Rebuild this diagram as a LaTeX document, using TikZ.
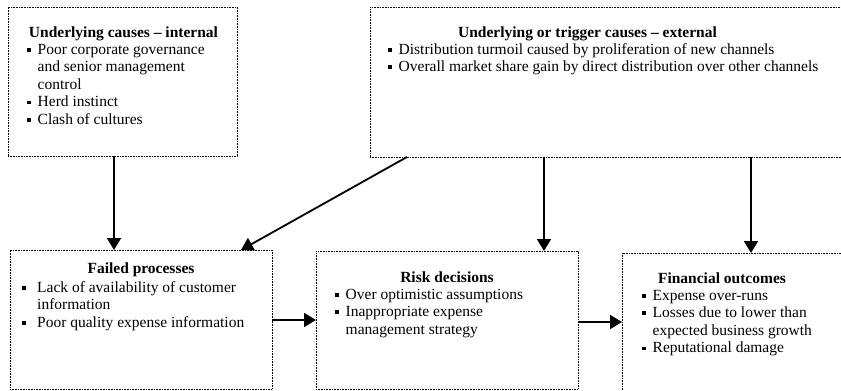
\documentclass[tikz,border=0pt]{standalone}
\usepackage{fontspec}
\setmainfont{Liberation Serif}
\usetikzlibrary{arrows.meta}

% square bullet, set in a column of its own
\newlength\bulind
\setlength\bulind{10pt}
\newcommand\bul{\makebox[\bulind][l]{\rule[2.5pt]{3.8pt}{3.8pt}}}
\newenvironment{blist}[1]
  {\setlength\bulind{#1}\begin{tabular}[t]{@{}l@{}l@{}}}
  {\end{tabular}}

\tikzset{
  box/.style={draw=black, line width=0.9pt, dash pattern=on 0.9pt off 0.7pt,
    rectangle, inner sep=0pt, outer sep=0pt},
  title/.style={font=\fontsize{15.5}{17.6}\selectfont\bfseries, inner sep=0pt, anchor=base},
  body/.style={font=\fontsize{15.5}{17.6}\selectfont, inner sep=0pt, anchor=base west},
  arr/.style={line width=1.8pt, -{Triangle[length=12pt,width=14pt]}}
}

\begin{document}
\begin{tikzpicture}[x=1pt,y=-1pt]
\useasboundingbox (0,0) rectangle (841,391);
\clip (0,0) rectangle (841,391);

% boxes
\node[box, minimum width=229pt, minimum height=149pt] (int) at (122.5,81.5) {};
\node[box, minimum width=500pt, minimum height=150pt] (ext) at (620,82) {};
\node[box, minimum width=262pt, minimum height=139pt] (fail) at (141,319.5) {};
\node[box, minimum width=262pt, minimum height=138pt] (risk) at (447,320) {};
\node[box, minimum width=258pt, minimum height=167pt] (fin) at (751,336.5) {};

% titles
\node[title] (intt) at (123.5,37) {Underlying causes – internal};
\node[title] (extt) at (587.5,37) {Underlying or trigger causes – external};
\node[title] (failt) at (141,273) {Failed processes};
\node[title] (riskt) at (447,282) {Risk decisions};
\node[title] (fint) at (722,283) {Financial outcomes};

% bullet lists
\node[body] (intb) at (26.5,54) {\begin{blist}{11pt}
  \bul & Poor corporate governance\\
       & and senior management\\
       & control\\
  \bul & Herd instinct\\
  \bul & Clash of cultures
\end{blist}};
\node[body] (extb) at (388,54) {\begin{blist}{10.5pt}
  \bul & Distribution turmoil caused by proliferation of new channels\\
  \bul & Overall market share gain by direct distribution over other channels
\end{blist}};
\node[body] (failb) at (22,292) {\begin{blist}{15pt}
  \bul & Lack of availability of customer\\
       & information\\
  \bul & Poor quality expense information
\end{blist}};
\node[body] (riskb) at (335,299) {\begin{blist}{10.5pt}
  \bul & Over optimistic assumptions\\
  \bul & Inappropriate expense\\
       & management strategy
\end{blist}};
\node[body] (finb) at (642,300) {\begin{blist}{10.5pt}
  \bul & Expense over-runs\\
  \bul & Losses due to lower than\\
       & expected business growth\\
  \bul & Reputational damage
\end{blist}};

% connectors
\draw[arr] ([xshift=-8.5pt]int.south) -- ([xshift=-8.5pt]int.south |- fail.north);
\draw[arr] ([xshift=37pt]ext.south west) -- ([xshift=-31pt]fail.north east);
\draw[arr] ([xshift=174pt]ext.south west) -- ([xshift=174pt]ext.south west |- risk.north);
\draw[arr] ([xshift=381pt]ext.south west) -- ([xshift=381pt]ext.south west |- fin.north);
\draw[arr] ([yshift=-0.5pt]fail.east) -- ([yshift=-0.5pt]fail.east -| risk.west);
\draw[arr] ([yshift=-2pt]risk.east) -- ([yshift=-2pt]risk.east -| fin.west);
\end{tikzpicture}
\end{document}
